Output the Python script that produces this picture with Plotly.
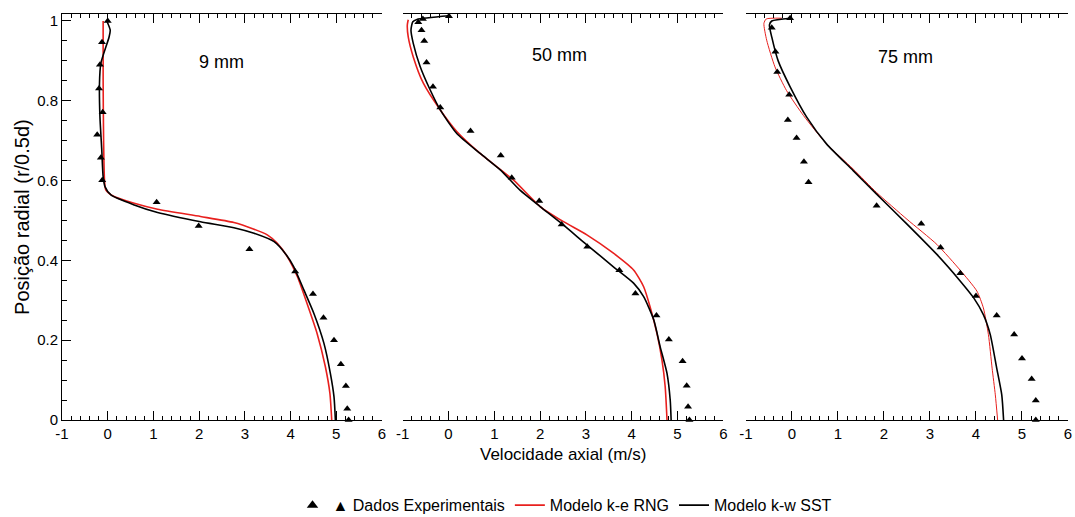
import plotly.graph_objects as go

# ---------------- data ----------------
panel_titles = ["9 mm", "50 mm", "75 mm"]

# 9 mm
exp9_v = [0.0, -0.125, -0.17, -0.19, -0.11, -0.23, -0.15, -0.12, 1.07, 1.99, 3.10, 4.10, 4.49, 4.72, 4.95, 5.10, 5.21, 5.24, 5.27]
exp9_r = [1.0, 0.947, 0.890, 0.831, 0.771, 0.715, 0.657, 0.601, 0.546, 0.486, 0.428, 0.372, 0.316, 0.256, 0.200, 0.140, 0.085, 0.028, 0.0]
rng9_v = [-0.10, -0.10, -0.09, -0.07, -0.04, 0.14, 0.58, 1.09, 2.03, 2.76, 3.20, 3.49, 3.71, 3.93, 4.15, 4.36, 4.58, 4.76, 4.86, 4.90]
rng9_r = [1.0, 0.85, 0.70, 0.60, 0.576, 0.560, 0.543, 0.528, 0.510, 0.495, 0.478, 0.464, 0.443, 0.409, 0.359, 0.292, 0.217, 0.134, 0.067, 0.0]
sst9_v = [-0.02, 0.055, 0.03, -0.15, -0.18, -0.17, -0.13, -0.10, -0.06, 0.07, 0.58, 1.09, 2.03, 2.76, 3.20, 3.64, 3.90, 4.07, 4.29, 4.51, 4.73, 4.87, 4.95, 4.98]
sst9_r = [1.0, 0.977, 0.96, 0.894, 0.844, 0.76, 0.677, 0.61, 0.585, 0.564, 0.539, 0.52, 0.497, 0.482, 0.468, 0.447, 0.415, 0.384, 0.326, 0.267, 0.192, 0.117, 0.058, 0.0]

# 50 mm
exp50_v = [0.01, -0.56, -0.66, -0.59, -0.53, -0.48, -0.34, -0.18, 0.48, 1.14, 1.38, 1.98, 2.47, 3.03, 3.73, 4.08, 4.54, 4.81, 5.11, 5.20, 5.23, 5.26]
exp50_r = [1.012, 1.005, 0.997, 0.977, 0.950, 0.896, 0.835, 0.783, 0.724, 0.663, 0.607, 0.549, 0.490, 0.434, 0.375, 0.317, 0.262, 0.202, 0.147, 0.086, 0.033, 0.0]
rng50_v = [-0.88, -0.90, -0.88, -0.77, -0.55, -0.18, 0.18, 0.69, 1.42, 2.00, 2.51, 3.02, 3.60, 4.04, 4.26, 4.40, 4.55, 4.66, 4.73, 4.77]
rng50_r = [1.003, 0.99, 0.96, 0.91, 0.844, 0.777, 0.723, 0.668, 0.601, 0.535, 0.497, 0.464, 0.418, 0.376, 0.334, 0.284, 0.217, 0.150, 0.084, 0.0]
sst50_v = [0.01, -0.69, -0.78, -0.82, -0.77, -0.62, -0.40, -0.18, 0.18, 0.69, 1.13, 1.56, 2.00, 2.44, 3.02, 3.60, 4.04, 4.26, 4.48, 4.62, 4.77, 4.84, 4.86]
sst50_r = [1.013, 1.004, 0.998, 0.977, 0.944, 0.886, 0.827, 0.777, 0.718, 0.668, 0.627, 0.576, 0.535, 0.495, 0.439, 0.384, 0.343, 0.309, 0.251, 0.184, 0.117, 0.05, 0.0]

# 75 mm
exp75_v = [-0.04, -0.44, -0.36, -0.32, -0.06, -0.09, 0.10, 0.26, 0.36, 1.84, 2.81, 3.23, 3.66, 4.00, 4.45, 4.83, 5.00, 5.21, 5.30, 5.30]
exp75_r = [1.007, 0.983, 0.923, 0.872, 0.815, 0.752, 0.707, 0.647, 0.596, 0.537, 0.492, 0.432, 0.368, 0.311, 0.262, 0.214, 0.154, 0.103, 0.049, 0.0]
rng75_v = [-0.22, -0.56, -0.61, -0.55, -0.37, -0.12, 0.25, 0.75, 1.33, 1.84, 2.50, 3.15, 3.66, 4.02, 4.16, 4.27, 4.35, 4.42, 4.47]
rng75_r = [1.007, 1.005, 0.994, 0.952, 0.885, 0.826, 0.763, 0.692, 0.629, 0.570, 0.503, 0.440, 0.375, 0.323, 0.281, 0.214, 0.130, 0.063, 0.0]
sst75_v = [-0.03, -0.44, -0.49, -0.44, -0.30, -0.04, 0.32, 0.75, 1.33, 1.84, 2.50, 3.15, 3.66, 3.95, 4.16, 4.31, 4.45, 4.56, 4.60]
sst75_r = [1.007, 1.0, 0.99, 0.96, 0.90, 0.835, 0.759, 0.692, 0.625, 0.566, 0.491, 0.415, 0.348, 0.306, 0.264, 0.214, 0.130, 0.063, 0.0]

x_ticks = [-1, 0, 1, 2, 3, 4, 5, 6]
y_ticks = [0, 0.2, 0.4, 0.6, 0.8, 1]
y_ticktext = ["0", "0.2", "0.4", "0.6", "0.8", "1"]

legend_names = ["\u25b2 Dados Experimentais", "Modelo k-e RNG", "Modelo k-w SST"]
x_title = "Velocidade axial (m/s)"
y_title = "Posi\u00e7\u00e3o radial (r/0.5d)"

# ---------------- figure ----------------
FONT = "Liberation Sans, Arial, sans-serif"
RED = "#e8201e"
panels = [
    (exp9_v, exp9_r, rng9_v, rng9_r, sst9_v, sst9_r, 1.6),
    (exp50_v, exp50_r, rng50_v, rng50_r, sst50_v, sst50_r, 1.6),
    (exp75_v, exp75_r, rng75_v, rng75_r, sst75_v, sst75_r, 1.0),
]
domains = [[0.0, 0.3181], [0.3387, 0.6574], [0.6799, 1.0]]

fig = go.Figure()
for i, (ev, er, rv, rr, sv, sr, rw) in enumerate(panels):
    xa = "x" if i == 0 else f"x{i+1}"
    ya = "y" if i == 0 else f"y{i+1}"
    first = i == 0
    fig.add_trace(go.Scatter(x=rv, y=rr, mode="lines", line=dict(color=RED, width=rw, shape="spline", smoothing=0.6),
                             name=legend_names[1], legendrank=2, showlegend=first, xaxis=xa, yaxis=ya))
    fig.add_trace(go.Scatter(x=sv, y=sr, mode="lines", line=dict(color="black", width=1.6, shape="spline", smoothing=0.6),
                             name=legend_names[2], legendrank=3, showlegend=first, xaxis=xa, yaxis=ya))
    fig.add_trace(go.Scatter(x=ev, y=er, mode="markers", marker=dict(symbol="triangle-up", size=7, color="black"),
                             name=legend_names[0], showlegend=False, xaxis=xa, yaxis=ya, cliponaxis=False))

# legend entry for the experimental data (larger symbol, as in the reference key)
fig.add_trace(go.Scatter(x=[None], y=[None], mode="markers", marker=dict(symbol="triangle-up", size=10, color="black"),
                         name=legend_names[0], legendrank=1, showlegend=True))

layout = dict(
    width=1075, height=517,
    margin=dict(l=62, r=7, t=14, b=97, autoexpand=False),
    paper_bgcolor="white", plot_bgcolor="white",
    font=dict(family=FONT, color="black", size=15),
    showlegend=True,
    legend=dict(orientation="h", x=0.5, xanchor="center", y=-0.21, yanchor="middle",
                font=dict(size=16, family=FONT), traceorder="normal", itemwidth=30),
)
for i in range(3):
    xk = "xaxis" if i == 0 else f"xaxis{i+1}"
    yk = "yaxis" if i == 0 else f"yaxis{i+1}"
    layout[xk] = dict(domain=domains[i], range=[-1, 6], tickvals=x_ticks, ticktext=[str(t) for t in x_ticks],
                      ticks="inside", ticklen=9, tickcolor="black", showline=True, linecolor="black", linewidth=1,
                      mirror="ticks", showgrid=False, zeroline=False, tickfont=dict(size=15),
                      minor=dict(dtick=0.2, ticks="inside", ticklen=4, tickcolor="black", showgrid=False),
                      anchor="y" if i == 0 else f"y{i+1}")
    if i == 0:
        layout[yk] = dict(range=[0, 1.0175], tickvals=y_ticks, ticktext=y_ticktext,
                          ticks="inside", ticklen=9, tickcolor="black", showline=True, linecolor="black", linewidth=1,
                          showgrid=False, zeroline=False, tickfont=dict(size=15),
                          minor=dict(dtick=0.05, ticks="inside", ticklen=5, tickcolor="black", showgrid=False),
                          anchor="x")
    else:
        layout[yk] = dict(range=[0, 1.0175], showline=False, showticklabels=False, ticks="", showgrid=False,
                          zeroline=False, anchor=f"x{i+1}")
fig.update_layout(**layout)

title_pos = [(2.48, 0.897), (2.43, 0.915), (2.46, 0.91)]
for i, (t, (px, py)) in enumerate(zip(panel_titles, title_pos)):
    fig.add_annotation(text=t, x=px, y=py, xref="x" if i == 0 else f"x{i+1}", yref="y" if i == 0 else f"y{i+1}",
                       showarrow=False, font=dict(size=18, family=FONT))

fig.add_annotation(text=x_title, x=0.498, y=-0.086, xref="paper", yref="paper", xanchor="center", yanchor="middle",
                   showarrow=False, font=dict(size=17, family=FONT))
fig.add_annotation(text=y_title, x=-0.0398, y=0.5, xref="paper", yref="paper", xanchor="center", yanchor="middle",
                   textangle=-90, showarrow=False, font=dict(size=20, family=FONT))

fig.write_html("out.html")
